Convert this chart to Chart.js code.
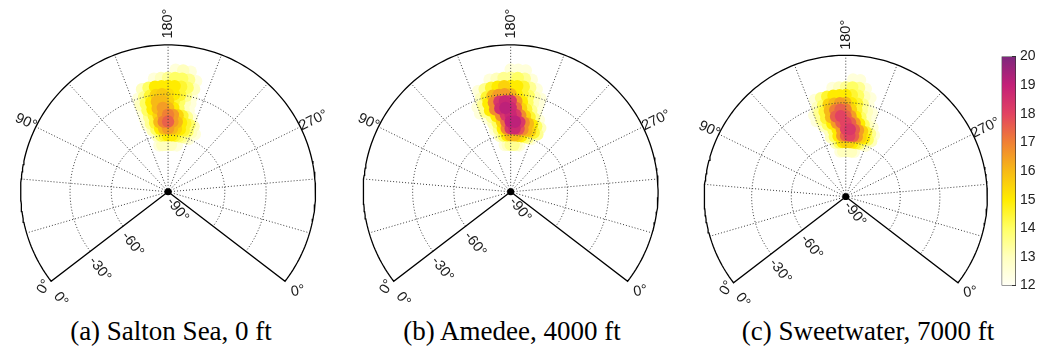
<!DOCTYPE html>
<html lang="en">
<head>
<meta charset="UTF-8">
<title>Polar heat maps</title>
<script src="https://cdn.jsdelivr.net/npm/chart.js"></script>
<style>
  body { margin: 0; background: #fff; width: 1037px; height: 356px; position: relative; overflow: hidden; }
  canvas { position: absolute; }
  .caption { position: absolute; top: 316px; width: 340px; text-align: center;
             font-family: "Liberation Serif", "Times New Roman", serif; font-size: 27px; color: #000; }
</style>
</head>
<body>
<canvas id="plotA" width="340" height="312" style="left:0;top:0"></canvas>
<canvas id="plotB" width="340" height="312" style="left:340px;top:0"></canvas>
<canvas id="plotC" width="320" height="312" style="left:680px;top:0"></canvas>
<canvas id="colorbar" width="37" height="262" style="left:1000px;top:40px"></canvas>
<div class="caption" style="left:1px">(a) Salton Sea, 0 ft</div>
<div class="caption" style="left:342px">(b) Amedee, 4000 ft</div>
<div class="caption" style="left:698px">(c) Sweetwater, 7000 ft</div>

<script>
// heat map grid: azimuth columns and elevation rows (degrees)
const azimuths = [150, 155, 160, 165, 170, 175, 180, 185, 190, 195, 200, 205, 210, 215];
const elevations = [-15, -20, -25, -30, -35, -40, -45, -50, -55, -60, -65];

// values, one row per elevation
const saltonSea = [
  [12, 12, 12, 12, 12, 12, 12, 12.5, 13, 12.5, 12, 12, 12, 12],
  [12, 12, 12, 12, 12.5, 13, 13.5, 14, 14, 13.5, 12.5, 12, 12, 12],
  [12, 12, 13, 14, 15, 15, 15, 15, 14.5, 14, 13, 12, 12, 12],
  [12, 12.5, 13.5, 14.5, 15.5, 15.7, 15.3, 15, 14.5, 13.5, 12.5, 12, 12, 12],
  [12, 13, 14, 15, 16, 16, 15.5, 14.5, 14, 13, 12.5, 12, 12, 12],
  [12, 12.5, 14, 15, 16, 16.5, 16, 15, 14, 13, 12.5, 12, 12, 12],
  [12, 12.5, 13.5, 14.5, 15.5, 16.5, 17, 16.5, 15.5, 14.5, 13.5, 12.5, 12, 12],
  [12, 12.5, 13.5, 14.5, 16, 17, 17.5, 16.5, 16, 15, 14.5, 14, 13, 12],
  [12, 12, 13, 14, 15, 16, 16.5, 16, 15.5, 15, 14.5, 14, 13, 12.5],
  [12, 12, 12, 13, 14, 14.5, 15, 15, 14.5, 14, 13.5, 13, 12.5, 12],
  [12, 12, 12, 12.5, 13, 13, 13, 13, 12.5, 12.5, 12, 12, 12, 12]
];
const amedee = [
  [12, 12, 12, 12, 12, 12, 12.5, 12.5, 12.5, 12, 12, 12, 12, 12],
  [12, 12, 12, 12.5, 13, 13.5, 13.5, 14, 13.5, 12.5, 12, 12, 12, 12],
  [12, 12.5, 13.5, 14.5, 15, 15.5, 15, 15, 14.5, 13.5, 12.5, 12, 12, 12],
  [12, 13, 14.5, 16, 16.5, 16.5, 16, 15, 14.5, 14, 13, 12.5, 12, 12],
  [12.5, 13.5, 15, 16.8, 18.3, 18.8, 18.3, 16.5, 15, 14, 13, 12.5, 12, 12],
  [12.5, 13.5, 15, 16.8, 18.6, 19.1, 18.7, 17.3, 15.5, 14.5, 13.5, 12.5, 12, 12],
  [12, 12.5, 13.5, 15, 16.8, 18.3, 18.8, 18.3, 16.8, 15.5, 14.5, 13.5, 12.5, 12],
  [12, 12, 13, 14, 15.5, 17.3, 19, 19.1, 18.3, 16.8, 16, 15, 14, 13],
  [12, 12, 12.5, 13.5, 15, 16.8, 18.3, 18.7, 17.8, 16.8, 16, 15.5, 14.5, 13.5],
  [12, 12, 12, 13, 14, 15, 16, 16, 15.5, 15, 14, 13.5, 12.5, 12],
  [12, 12, 12, 12, 12.5, 13, 13.5, 13.5, 13, 12.5, 12, 12, 12, 12]
];
const sweetwater = [
  [12, 12, 12, 12, 12, 12, 12, 12.5, 12.5, 12, 12, 12, 12, 12],
  [12, 12, 12, 12, 12.5, 13, 13.5, 14, 13.5, 12.5, 12, 12, 12, 12],
  [12, 12.5, 13.5, 14.5, 15, 15, 15, 14.5, 14, 13, 12.5, 12, 12, 12],
  [12, 13, 14, 15.5, 16, 16.5, 16, 15, 14.5, 13.5, 12.5, 12, 12, 12],
  [12.5, 13.5, 14.5, 16, 17, 17.5, 17, 15.5, 14.5, 13.5, 13, 12.5, 12, 12],
  [12.5, 13.5, 14.5, 16, 17.5, 18, 17.5, 16.5, 15, 14, 13, 12.5, 12, 12],
  [12, 13, 14, 15, 16.5, 17.5, 18, 17.5, 16.5, 15, 14, 13, 12.5, 12],
  [12, 12, 13, 14, 15, 16.5, 18, 18.3, 17.5, 16.5, 15.5, 14.5, 13.5, 12.5],
  [12, 12, 13, 14, 15, 16.5, 17.5, 18, 17.5, 16.5, 15.5, 15, 14, 13],
  [12, 12, 12, 13, 14, 15, 15.5, 15.5, 15, 14.5, 14, 13, 12.5, 12],
  [12, 12, 12, 12, 12.5, 13, 13, 13, 13, 12.5, 12, 12, 12, 12]
];

// axis ticks
const azTicks = [0, 30, 60, 90, 120, 150, 180, 210, 240, 270, 300, 330, 360];
const azLabelTicks = [0, 90, 180, 270, 360];
const elTicks = [-90, -60, -30, 0];
const elRadius = [0, 0.385, 0.665, 1];   // radius (fraction) of each elevation ring
const colorTicks = [12, 13, 14, 15, 16, 17, 18, 19, 20];

// colour map 12 -> 20
const cmapStops = [
  [12, [255, 255, 245]], [13, [255, 255, 190]], [14, [255, 255, 100]],
  [15, [255, 236, 0]], [16, [247, 186, 22]], [17, [240, 128, 52]],
  [18, [226, 66, 98]], [19, [196, 32, 120]], [20, [125, 40, 125]]
];

Chart.defaults.font.family = '"Liberation Sans", Arial, sans-serif';

function cmap(v) {
  for (let i = 1; i < cmapStops.length; i++) {
    const [v0, c0] = cmapStops[i - 1], [v1, c1] = cmapStops[i];
    if (v <= v1) {
      const t = Math.max(0, (v - v0) / (v1 - v0));
      const c = c0.map((ch, k) => Math.round(ch + (c1[k] - ch) * t));
      return `rgb(${c[0]},${c[1]},${c[2]})`;
    }
  }
  return 'rgb(125,40,125)';
}

// the 360 degrees of azimuth are drawn over 255 degrees of the page
const AZ_SPAN = 255;
function radiusOf(el) {
  for (let i = 1; i < elTicks.length; i++) {
    if (el <= elTicks[i]) {
      const t = (el - elTicks[i - 1]) / (elTicks[i] - elTicks[i - 1]);
      return elRadius[i - 1] + t * (elRadius[i] - elRadius[i - 1]);
    }
  }
  return 1;
}
function project(az, el, scale = 1) {
  const r = radiusOf(el) * scale;
  const a = (az - 180) * AZ_SPAN / 360 * Math.PI / 180;
  return { x: r * Math.sin(a), y: r * Math.cos(a) };
}
function arc(el) {
  const pts = [];
  for (let az = azTicks[0]; az <= azTicks[azTicks.length - 1]; az += 2) pts.push(project(az, el));
  return pts;
}

// tick labels round the polar frame
const polarLabels = {
  id: 'polarLabels',
  afterDatasetsDraw(chart, args, opts) {
    const { ctx, scales: { x, y } } = chart;
    const k = opts.k;
    const put = (text, p, dx, dy, rot) => {
      ctx.save();
      ctx.translate(x.getPixelForValue(p.x) + dx, y.getPixelForValue(p.y) + dy);
      ctx.rotate(rot * Math.PI / 180);
      ctx.fillText(text, 0, 0);
      ctx.restore();
    };
    ctx.save();
    ctx.font = '14.5px "Liberation Sans", Arial, sans-serif';
    ctx.fillStyle = '#1a1a1a';
    ctx.textAlign = 'center';
    ctx.textBaseline = 'middle';
    // label distance (x radius) and rotation for each azimuth label
    const place = { 0: [1.06, -60], 90: [1.075, 25], 180: [1.145, -90], 270: [1.1, -26], 360: [1.11, -10] };
    azLabelTicks.forEach(az => {
      const [f, rot] = place[az];
      put((az % 360) + '°', project(az, 0, f), 0, 0, rot);
    });
    elTicks.forEach(el => {
      put(el + '°', project(azTicks[0], el), 9.5 * k, 18 * k, 52.5);
    });
    ctx.restore();
  }
};

function polarChart(id, values, cx, cy, R) {
  const canvas = document.getElementById(id);
  const W = canvas.width, H = canvas.height;
  const k = R / 153;

  const heat = [];
  elevations.forEach((el, i) => azimuths.forEach((az, j) => {
    const v = values[i][j];
    if (v > 12) heat.push({ ...project(az, el), v });
  }));
  heat.sort((a, b) => a.v - b.v);

  const centre = project(0, -90);
  const outline = [centre, ...arc(0), centre];
  const dotted = { showLine: true, pointRadius: 0, borderColor: '#3a3a3a', borderWidth: 1, borderDash: [1, 2] };
  const radials = azTicks.slice(1, -1).map(az => ({ ...dotted, data: [centre, project(az, 0)] }));
  const rings = elTicks.slice(1, -1).map(el => ({ ...dotted, data: arc(el) }));

  new Chart(canvas, {
    type: 'scatter',
    data: {
      datasets: [
        { data: [centre], pointRadius: 3.5 * k, backgroundColor: '#000', borderWidth: 0 },
        { data: outline, showLine: true, pointRadius: 0, borderColor: '#000', borderWidth: 1.3 },
        ...radials,
        ...rings,
        { data: heat, pointRadius: 6.2 * k, borderWidth: 0,
          backgroundColor: c => (c.raw ? cmap(c.raw.v) : 'transparent') }
      ]
    },
    options: {
      responsive: false,
      animation: false,
      events: [],
      layout: { padding: 0 },
      plugins: { legend: { display: false }, tooltip: { enabled: false }, polarLabels: { k } },
      scales: {
        x: { type: 'linear', display: false, min: -cx / R, max: (W - cx) / R },
        y: { type: 'linear', display: false, min: -(H - cy) / R, max: cy / R }
      }
    },
    plugins: [polarLabels]
  });
}

polarChart('plotA', saltonSea, 168, 193.3, 153);
polarChart('plotB', amedee, 170.7, 193.3, 153);
polarChart('plotC', sweetwater, 166, 198.3, 147);

// colour bar
new Chart(document.getElementById('colorbar'), {
  type: 'bar',
  data: {
    labels: [''],
    datasets: [{
      data: [[colorTicks[0], colorTicks[colorTicks.length - 1]]],
      backgroundColor: c => {
        const ys = c.chart.scales.y;
        if (!ys) return 'transparent';
        const y0 = ys.getPixelForValue(colorTicks[0]);
        const y1 = ys.getPixelForValue(colorTicks[colorTicks.length - 1]);
        if (!isFinite(y0) || !isFinite(y1)) return 'transparent';
        const g = c.chart.ctx.createLinearGradient(0, y0, 0, y1);
        cmapStops.forEach(([v, rgb]) => g.addColorStop((v - colorTicks[0]) / (colorTicks[colorTicks.length - 1] - colorTicks[0]), `rgb(${rgb.join(',')})`));
        return g;
      },
      borderColor: '#333',
      borderWidth: 1,
      borderSkipped: false,
      barPercentage: 1,
      categoryPercentage: 1
    }]
  },
  options: {
    responsive: false,
    animation: false,
    events: [],
    layout: { padding: { left: 1.5, top: 10, bottom: 14.7, right: 0 } },
    plugins: { legend: { display: false }, tooltip: { enabled: false } },
    scales: {
      x: { display: false },
      y: {
        position: 'right', min: 12, max: 20,
        afterFit: s => { s.width = 21; },
        ticks: { stepSize: 1, padding: 8, color: '#222', font: { size: 14 } },
        grid: { drawOnChartArea: false, tickLength: -4, color: '#333' },
        border: { display: false }
      }
    }
  }
});
</script>
</body>
</html>
